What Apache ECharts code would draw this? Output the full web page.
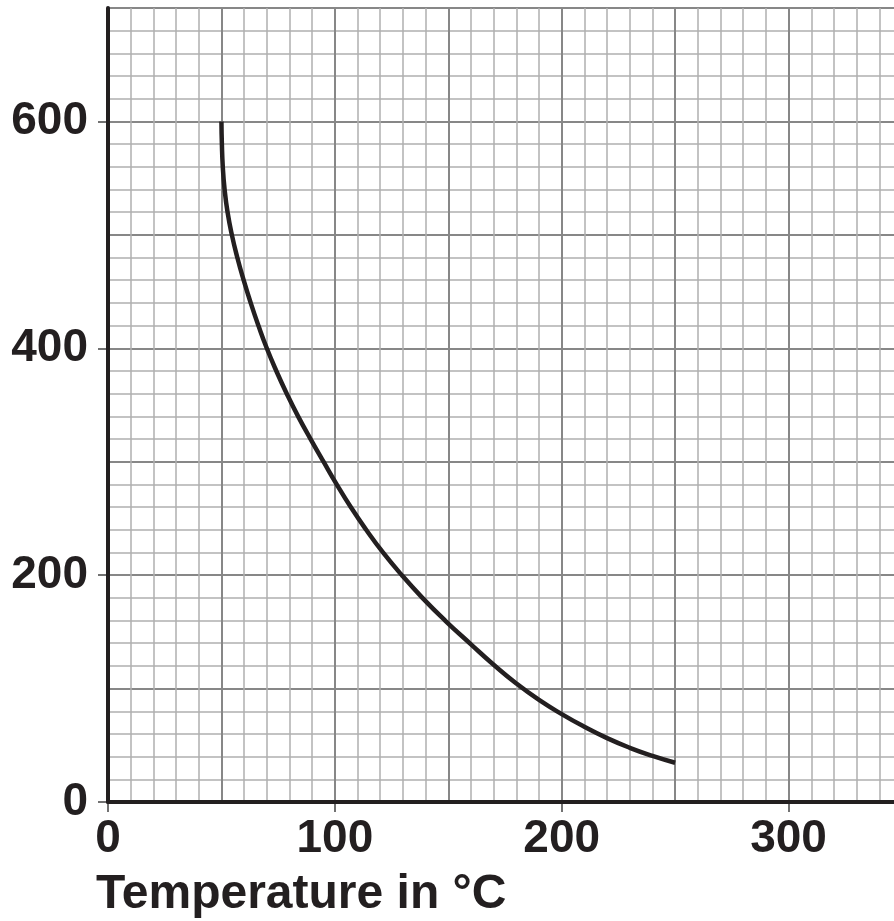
<!DOCTYPE html>
<html>
<head>
<meta charset="utf-8">
<script src="https://cdn.jsdelivr.net/npm/echarts@6/dist/echarts.min.js"></script>
<style>
  html, body { margin: 0; padding: 0; background: #ffffff; overflow: hidden; width: 894px; height: 921px; }
  #chart { width: 902px; height: 921px; }
</style>
</head>
<body>
<div id="chart"></div>
<script>
// Data
const tempC = [50, 50.2, 50.6, 51.4, 52.7, 54.6, 57.0, 59.8, 62.9, 66.3, 70.0, 74.2, 78.8, 83.8, 89.3, 95.0, 100.8, 107.0, 113.8, 121.2, 129.5, 138.6, 148.6, 160, 170, 180, 190, 200, 210, 220, 230, 240, 250];
const yValues = [600, 580, 560, 540, 520, 500, 480, 460, 440, 420, 400, 380, 360, 340, 320, 300, 280, 260, 240, 220, 200, 180, 160, 139, 121, 104.5, 90, 77.5, 66.3, 56.3, 47.8, 40.7, 34.6];
const xTickLabels = [0, 100, 200, 300];
const yTickLabels = [0, 200, 400, 600];
const xAxisTitle = 'Temperature in °C';

const ink = '#231f20';
const labelFont = { fontFamily: 'Liberation Sans, Arial, sans-serif', fontWeight: 'bold', fontSize: 46, color: ink };

const chart = echarts.init(document.getElementById('chart'));
chart.setOption({
  animation: false,
  backgroundColor: '#ffffff',
  title: {
    text: xAxisTitle,
    left: 96,
    top: 871,
    padding: 0,
    textStyle: { fontFamily: 'Liberation Sans, Arial, sans-serif', fontWeight: 'bold', fontSize: 48, color: ink }
  },
  grid: { left: 108, top: 8, right: 0, bottom: 119, containLabel: false },
  xAxis: [
    {
      type: 'value', min: 0, max: 350, interval: 50, position: 'bottom',
      axisLine: { show: true, onZero: false, lineStyle: { color: ink, width: 4 } },
      axisTick: { show: false },
      axisLabel: { show: false },
      splitLine: { show: true, lineStyle: { color: '#878787', width: 2 } },
      minorTick: { show: false, splitNumber: 5 },
      minorSplitLine: { show: true, lineStyle: { color: '#b0b0b0', width: 1.5 } },
      z: 3
    },
    {
      type: 'value', min: 0, max: 350, interval: 100, position: 'bottom',
      axisLine: { show: false, onZero: false },
      axisTick: { show: true, length: 10, customValues: xTickLabels, lineStyle: { color: '#444', width: 1.5 } },
      axisLabel: Object.assign({ show: true, margin: 14, customValues: xTickLabels }, labelFont),
      splitLine: { show: false }
    }
  ],
  yAxis: [
    {
      type: 'value', min: 0, max: 700, interval: 100, position: 'left',
      axisLine: { show: true, onZero: false, lineStyle: { color: ink, width: 4 } },
      axisTick: { show: false },
      axisLabel: { show: false },
      splitLine: { show: true, lineStyle: { color: '#878787', width: 2 } },
      minorTick: { show: false, splitNumber: 5 },
      minorSplitLine: { show: true, lineStyle: { color: '#b0b0b0', width: 1.5 } },
      z: 3
    },
    {
      type: 'value', min: 0, max: 700, interval: 100, position: 'left',
      axisLine: { show: false, onZero: false },
      axisTick: { show: true, length: 10, customValues: yTickLabels, lineStyle: { color: '#444', width: 1.5 } },
      axisLabel: Object.assign({ show: true, margin: 20, customValues: yTickLabels }, labelFont),
      splitLine: { show: false }
    }
  ],
  series: [
    {
      type: 'line',
      xAxisIndex: 0,
      yAxisIndex: 0,
      data: tempC.map((t, i) => [t, yValues[i]]),
      smooth: 0.5,
      showSymbol: false,
      symbol: 'none',
      lineStyle: { color: ink, width: 4.5, cap: 'butt' },
      z: 5
    }
  ]
});
</script>
</body>
</html>
